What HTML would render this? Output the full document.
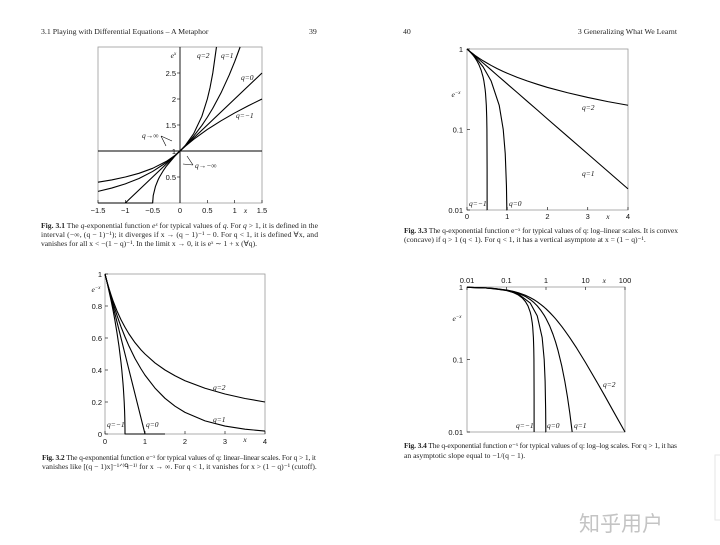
<!DOCTYPE html>
<html><head><meta charset="utf-8">
<style>
html,body{margin:0;padding:0;background:#fff;}
svg{display:block;}
.tk{font-family:"Liberation Sans",sans-serif;font-size:7.5px;fill:#111;}
.it{font-family:"Liberation Serif",serif;font-style:italic;font-size:7.5px;fill:#111;}
.cap{font-family:"Liberation Serif",serif;font-size:7.6px;fill:#222;}
.hd{font-family:"Liberation Serif",serif;font-size:7.8px;fill:#222;}
</style></head>
<body>
<svg id="page" width="720" height="545" viewBox="0 0 720 545" xmlns="http://www.w3.org/2000/svg">
<text class="hd" x="41" y="34">3.1   Playing with Differential Equations – A Metaphor</text>
<text class="hd" x="309" y="34">39</text>
<text class="hd" x="403" y="34">40</text>
<text class="hd" x="677" y="34" text-anchor="end">3   Generalizing What We Learnt</text>

<text class="cap" x="41" y="228" textLength="277" lengthAdjust="spacing"><tspan font-weight="bold">Fig. 3.1</tspan> The <tspan font-style="italic">q</tspan>-exponential function <tspan font-style="italic">eˣ</tspan> for typical values of <tspan font-style="italic">q</tspan>. For <tspan font-style="italic">q</tspan> &gt; 1, it is defined in the</text>
<text class="cap" x="41" y="237" textLength="277" lengthAdjust="spacing">interval (−∞, (q − 1)⁻¹); it diverges if x → (q − 1)⁻¹ − 0. For q &lt; 1, it is defined ∀x, and</text>
<text class="cap" x="41" y="246">vanishes for all x &lt; −(1 − q)⁻¹. In the limit x → 0, it is eˣ ∼ 1 + x (∀q).</text>

<text class="cap" x="404" y="233" textLength="274" lengthAdjust="spacing"><tspan font-weight="bold">Fig. 3.3</tspan> The q-exponential function e⁻ˣ for typical values of q: log–linear scales. It is convex</text>
<text class="cap" x="404" y="242">(concave) if q &gt; 1 (q &lt; 1). For q &lt; 1, it has a vertical asymptote at x = (1 − q)⁻¹.</text>

<text class="cap" x="42" y="460" textLength="274" lengthAdjust="spacing"><tspan font-weight="bold">Fig. 3.2</tspan> The q-exponential function e⁻ˣ for typical values of q: linear–linear scales. For q &gt; 1, it</text>
<text class="cap" x="42" y="469">vanishes like [(q − 1)x]⁻¹ᐟ⁽ᑫ⁻¹⁾ for x → ∞. For q &lt; 1, it vanishes for x &gt; (1 − q)⁻¹ (cutoff).</text>

<text class="cap" x="404" y="448" textLength="273" lengthAdjust="spacing"><tspan font-weight="bold">Fig. 3.4</tspan> The q-exponential function e⁻ˣ for typical values of q: log–log scales. For q &gt; 1, it has</text>
<text class="cap" x="404" y="458">an asymptotic slope equal to −1/(q − 1).</text>

<text x="621" y="531" text-anchor="middle" font-family="'Liberation Sans','Noto Sans CJK SC',sans-serif" font-size="21" fill="#c4c4c4">知乎用户</text>
<rect x="715" y="455" width="8" height="65" fill="none" stroke="#e6e6e6"/>
</svg>
<script>
// ---- Fig 3.1 data (e_q^x) ----
const f1_q2_x=[-1.5,-1.25,-1,-0.75,-0.5,-0.25,-0.1,0,0.1,0.25,0.4,0.5,0.55,0.6,0.667];
const f1_q2_y=[0.4,0.444,0.5,0.571,0.667,0.8,0.909,1,1.111,1.333,1.667,2,2.222,2.5,3];
const f1_q1_x=[-1.5,-1.25,-1,-0.75,-0.5,-0.25,-0.1,0,0.1,0.25,0.4,0.5,0.6,0.75,0.9,1,1.1];
const f1_q1_y=[0.223,0.287,0.368,0.472,0.607,0.779,0.905,1,1.105,1.284,1.492,1.649,1.822,2.117,2.46,2.718,3.0];
const f1_q0_x=[-1.5,-1,0,1.5];
const f1_q0_y=[0,0,1,2.5];
const f1_qm1_x=[-1.5,-0.5,-0.49,-0.45,-0.4,-0.375,-0.3,-0.25,-0.1,0,0.1,0.25,0.5,0.75,1,1.25,1.5];
const f1_qm1_y=[0,0,0.141,0.316,0.447,0.5,0.632,0.707,0.894,1,1.095,1.225,1.414,1.581,1.732,1.871,2.0];
const f1_xticks=[-1.5,-1,-0.5,0,0.5,1,1.5];
const f1_xlabels=["−1.5","−1","−0.5","0","0.5","1","1.5"];
const f1_yticks=[0.5,1,1.5,2,2.5];
const f1_ylabels=["0.5","1","1.5","2","2.5"];
// ---- Fig 3.3 / 3.2 / 3.4 data (e_q^{-x}) ----
const d_q2_x=[0,0.01,0.03,0.05,0.1,0.15,0.2,0.3,0.4,0.5,0.6,0.75,0.9,1,1.25,1.5,1.75,2,2.5,3,3.5,4,6,10,20,30,50,100];
const d_q2_y=[1,0.990,0.971,0.952,0.909,0.870,0.833,0.769,0.714,0.667,0.625,0.571,0.526,0.5,0.444,0.4,0.364,0.333,0.286,0.25,0.222,0.2,0.143,0.0909,0.0476,0.0323,0.0196,0.0099];
const d_q1_x=[0,0.01,0.03,0.05,0.1,0.15,0.2,0.3,0.4,0.5,0.6,0.75,0.9,1,1.25,1.5,1.75,2,2.5,3,3.5,4,4.6];
const d_q1_y=[1,0.990,0.970,0.951,0.905,0.861,0.819,0.741,0.670,0.607,0.549,0.472,0.407,0.368,0.287,0.223,0.174,0.135,0.082,0.0498,0.0302,0.0183,0.01];
const d_q0_x=[0,0.01,0.03,0.1,0.2,0.4,0.6,0.8,0.9,0.95,0.98,0.99,1];
const d_q0_y=[1,0.99,0.97,0.9,0.8,0.6,0.4,0.2,0.1,0.05,0.02,0.01,0];
const d_qm1_x=[0,0.01,0.03,0.05,0.1,0.15,0.2,0.25,0.3,0.35,0.4,0.42,0.45,0.46,0.48,0.49,0.495,0.4995,0.49995,0.5];
const d_qm1_y=[1,0.990,0.970,0.949,0.894,0.837,0.775,0.707,0.632,0.548,0.447,0.4,0.316,0.283,0.2,0.141,0.1,0.0316,0.01,0];
const f3_xticks=[0,1,2,3,4], f3_ylog=[1,0.1,0.01], f3_ylabels=["1","0.1","0.01"];
const f2_xticks=[0,1,2,3,4], f2_yticks=[0,0.2,0.4,0.6,0.8,1], f2_ylabels=["0","0.2","0.4","0.6","0.8","1"];
const f4_xlog=[0.01,0.1,1,10,100], f4_xlabels=["0.01","0.1","1","10","100"], f4_ylog=[1,0.1,0.01], f4_ylabels=["1","0.1","0.01"];

const NS="http://www.w3.org/2000/svg";
const svg=document.getElementById('page');
function mk(tag,attrs,parent){const e=document.createElementNS(NS,tag);for(const k in attrs)e.setAttribute(k,attrs[k]);(parent||svg).appendChild(e);return e;}
function txt(cls,x,y,s,anchor,parent){const t=mk('text',{class:cls,x:x,y:y,'text-anchor':anchor||'start'},parent);t.textContent=s;return t;}
function lin(d0,d1,r0,r1){return v=>r0+(v-d0)/(d1-d0)*(r1-r0);}
function lg(d0,d1,r0,r1){return v=>r0+(Math.log10(v)-Math.log10(d0))/(Math.log10(d1)-Math.log10(d0))*(r1-r0);}
function curve(g,xs,ys,sx,sy,name,clipY){
  const pts=[];
  for(let i=0;i<xs.length;i++){let x=xs[i],y=ys[i];if(y===undefined)continue;if(clipY)y=Math.max(y,clipY);pts.push(sx(x).toFixed(2)+','+sy(y).toFixed(2));}
  const p=mk('polyline',{points:pts.join(' '),fill:'none',stroke:'#000','stroke-width':1.1,'stroke-linejoin':'round'},g);
  
  
}
function group(name){const g=mk('g',{});return g;}
function ylab(g,x,y,sup){const t=txt('it',x,y,'e','middle',g);const s=mk('tspan',{'font-size':'5',dy:'-3'},t);s.textContent=sup;return t;}

// ===== Fig 3.1 =====
(function(){
 const g=group('fig31-chart');
 const sx=lin(-1.5,1.5,98,262), sy=lin(0,3,203,47);
 mk('rect',{x:98,y:47,width:164,height:156,fill:'none',stroke:'#999','stroke-width':0.8},g);
 mk('line',{x1:sx(0),y1:47,x2:sx(0),y2:203,stroke:'#000','stroke-width':0.9},g);
 mk('line',{x1:98,y1:sy(1),x2:262,y2:sy(1),stroke:'#000','stroke-width':0.9},g);
 f1_xticks.forEach((v,i)=>{mk('line',{x1:sx(v),y1:203,x2:sx(v),y2:200,stroke:'#000','stroke-width':0.6},g);const t=txt('tk',sx(v),213,f1_xlabels[i],'middle',g);});
 f1_yticks.forEach((v,i)=>{mk('line',{x1:sx(0),y1:sy(v),x2:sx(0)-3,y2:sy(v),stroke:'#000','stroke-width':0.6},g);const t=txt('tk',sx(0)-4,sy(v)+3,f1_ylabels[i],'end',g);});
 txt('it',sx(1.2),213,'x','middle',g);
 ylab(g,sx(-0.12),58,'x');
 curve(g,f1_q2_x,f1_q2_y,sx,sy,'fig31-curve-q2');
 curve(g,f1_q1_x,f1_q1_y,sx,sy,'fig31-curve-q1');
 curve(g,f1_q0_x,f1_q0_y,sx,sy,'fig31-curve-q0');
 curve(g,f1_qm1_x,f1_qm1_y,sx,sy,'fig31-curve-qm1');
 txt('it',197,58,'q=2','start',g);txt('it',221,58,'q=1','start',g);
 txt('it',241,80,'q=0','start',g);txt('it',236,118,'q=−1','start',g);
 txt('it',142,138,'q→∞','start',g);txt('it',195,168,'q→−∞','start',g);
 mk('path',{d:'M161 136 L172 141 M161 136 L166 146',stroke:'#000','stroke-width':0.6,fill:'none'},g);
 mk('path',{d:'M193 165 L183 164 M193 165 L187 156',stroke:'#000','stroke-width':0.6,fill:'none'},g);
})();

// ===== Fig 3.3 (log-linear) =====
(function(){
 const g=group('fig33-chart');
 const sx=lin(0,4,467,628), sy=lg(1,0.01,49,210);
 mk('rect',{x:467,y:49,width:161,height:161,fill:'none',stroke:'#999','stroke-width':0.8},g);
 f3_xticks.forEach(v=>{mk('line',{x1:sx(v),y1:210,x2:sx(v),y2:207,stroke:'#000','stroke-width':0.6},g);const t=txt('tk',sx(v),219,String(v),'middle',g);});
 f3_ylog.forEach((v,i)=>{mk('line',{x1:467,y1:sy(v),x2:470,y2:sy(v),stroke:'#000','stroke-width':0.6},g);const t=txt('tk',463,sy(v)+3,f3_ylabels[i],'end',g);});
 txt('it',sx(3.5),219,'x','middle',g);ylab(g,456,97,'−x');
 const n2=d_q2_x.filter(x=>x<=4).length;
 curve(g,d_q2_x.slice(0,n2),d_q2_y.slice(0,n2),sx,sy,'fig33-curve-q2');
 const n1=d_q1_x.filter(x=>x<=4).length;
 curve(g,d_q1_x.slice(0,n1),d_q1_y.slice(0,n1),sx,sy,'fig33-curve-q1',0.01);
 curve(g,d_q0_x,d_q0_y,sx,sy,'fig33-curve-q0',0.01);
 curve(g,d_qm1_x,d_qm1_y,sx,sy,'fig33-curve-qm1',0.01);
 txt('it',582,110,'q=2','start',g);txt('it',582,176,'q=1','start',g);
 txt('it',469,206,'q=−1','start',g);txt('it',509,206,'q=0','start',g);
})();

// ===== Fig 3.2 (linear) =====
(function(){
 const g=group('fig32-chart');
 const sx=lin(0,4,105,265), sy=lin(0,1,434,274);
 mk('rect',{x:105,y:274,width:160,height:160,fill:'none',stroke:'#999','stroke-width':0.8},g);
 f2_xticks.forEach(v=>{mk('line',{x1:sx(v),y1:434,x2:sx(v),y2:431,stroke:'#000','stroke-width':0.6},g);const t=txt('tk',sx(v),444,String(v),'middle',g);});
 f2_yticks.forEach((v,i)=>{mk('line',{x1:105,y1:sy(v),x2:108,y2:sy(v),stroke:'#000','stroke-width':0.6},g);const t=txt('tk',102,sy(v)+3,f2_ylabels[i],'end',g);});
 txt('it',sx(3.5),442,'x','middle',g);ylab(g,96,292,'−x');
 const n2=d_q2_x.filter(x=>x<=4).length;
 curve(g,d_q2_x.slice(0,n2),d_q2_y.slice(0,n2),sx,sy,'fig32-curve-q2');
 const n1=d_q1_x.filter(x=>x<=4).length;
 curve(g,d_q1_x.slice(0,n1),d_q1_y.slice(0,n1),sx,sy,'fig32-curve-q1');
 curve(g,d_q0_x.concat([1.5]),d_q0_y.concat([0]),sx,sy,'fig32-curve-q0');
 curve(g,d_qm1_x.concat([1]),d_qm1_y.concat([0]),sx,sy,'fig32-curve-qm1');
 txt('it',213,390,'q=2','start',g);txt('it',213,422,'q=1','start',g);
 txt('it',107,427,'q=−1','start',g);txt('it',146,427,'q=0','start',g);
})();

// ===== Fig 3.4 (log-log) =====
(function(){
 const g=group('fig34-chart');
 const sx=lg(0.01,100,467,625), sy=lg(1,0.01,287,432);
 mk('rect',{x:467,y:287,width:158,height:145,fill:'none',stroke:'#999','stroke-width':0.8},g);
 f4_xlog.forEach((v,i)=>{mk('line',{x1:sx(v),y1:287,x2:sx(v),y2:290,stroke:'#000','stroke-width':0.6},g);const t=txt('tk',sx(v),283,f4_xlabels[i],'middle',g);});
 f4_ylog.forEach((v,i)=>{mk('line',{x1:467,y1:sy(v),x2:470,y2:sy(v),stroke:'#000','stroke-width':0.6},g);const t=txt('tk',463,sy(v)+3,f4_ylabels[i],'end',g);});
 txt('it',sx(30),283,'x','middle',g);ylab(g,457,321,'−x');
 const cut=(xs,ys)=>{const X=[],Y=[];xs.forEach((x,i)=>{if(x>=0.01){X.push(x);Y.push(Math.max(ys[i],0.01));}});return [X,Y];};
 let a=cut(d_q2_x,d_q2_y);curve(g,a[0],a[1],sx,sy,'fig34-curve-q2');
 a=cut(d_q1_x,d_q1_y);curve(g,a[0],a[1],sx,sy,'fig34-curve-q1');
 a=cut(d_q0_x,d_q0_y);curve(g,a[0],a[1],sx,sy,'fig34-curve-q0');
 a=cut(d_qm1_x,d_qm1_y);curve(g,a[0],a[1],sx,sy,'fig34-curve-qm1');
 txt('it',603,387,'q=2','start',g);txt('it',574,428,'q=1','start',g);
 txt('it',516,428,'q=−1','start',g);txt('it',547,428,'q=0','start',g);
})();
</script>
</body></html>
